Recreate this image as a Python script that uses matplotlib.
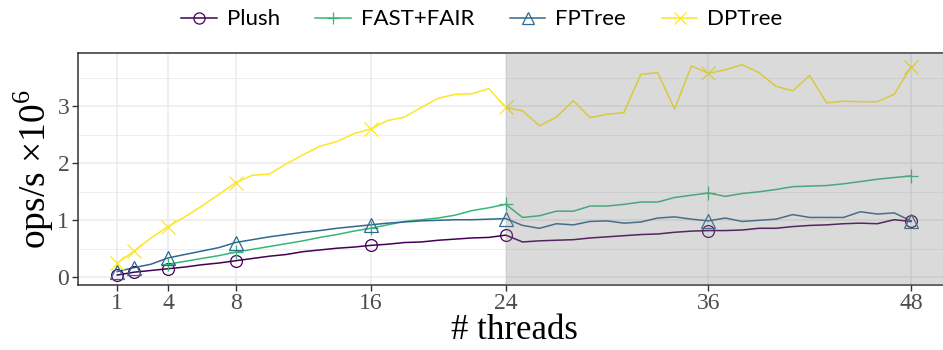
import numpy as np
import matplotlib
matplotlib.use("Agg")
from matplotlib import pyplot as plt
from matplotlib.lines import Line2D

threads = list(range(1, 49))
marked = [1, 2, 4, 8, 16, 24, 36, 48]

plush = [0.04, 0.09, 0.12, 0.15, 0.18, 0.22, 0.25, 0.29, 0.33, 0.37,
         0.40, 0.45, 0.48, 0.51, 0.53, 0.56, 0.58, 0.61, 0.62, 0.65,
         0.67, 0.69, 0.70, 0.74, 0.62, 0.64, 0.65, 0.66, 0.69, 0.71,
         0.73, 0.75, 0.76, 0.79, 0.81, 0.82, 0.82, 0.83, 0.86, 0.86,
         0.89, 0.91, 0.92, 0.94, 0.95, 0.94, 1.01, 0.98]

# FAST+FAIR has no runs below 4 threads
fastfair_threads = list(range(4, 49))
fastfair = [0.23, 0.28, 0.33, 0.38, 0.44, 0.49, 0.54, 0.59, 0.64, 0.70,
            0.75, 0.81, 0.86, 0.92, 0.98, 1.01, 1.04, 1.09, 1.17, 1.22,
            1.28, 1.05, 1.08, 1.16, 1.16, 1.25, 1.25, 1.28, 1.32, 1.32,
            1.40, 1.44, 1.48, 1.42, 1.47, 1.50, 1.54, 1.59, 1.60, 1.61,
            1.64, 1.68, 1.72, 1.75, 1.78]

fptree = [0.10, 0.17, 0.23, 0.34, 0.40, 0.46, 0.52, 0.61, 0.66, 0.71,
          0.75, 0.79, 0.82, 0.86, 0.89, 0.92, 0.95, 0.97, 0.99, 1.00,
          1.01, 1.01, 1.02, 1.03, 0.91, 0.86, 0.94, 0.92, 0.98, 0.99,
          0.95, 0.97, 1.04, 1.06, 1.02, 0.99, 1.04, 0.98, 1.00, 1.02,
          1.10, 1.05, 1.05, 1.05, 1.15, 1.11, 1.13, 0.99]

dptree = [0.25, 0.46, 0.69, 0.89, 1.06, 1.25, 1.45, 1.66, 1.79, 1.81,
          1.99, 2.15, 2.30, 2.38, 2.52, 2.60, 2.75, 2.81, 2.98, 3.14,
          3.21, 3.22, 3.31, 2.98, 2.92, 2.66, 2.81, 3.10, 2.80, 2.86,
          2.89, 3.56, 3.59, 2.95, 3.71, 3.58, 3.64, 3.73, 3.59, 3.35,
          3.27, 3.54, 3.06, 3.09, 3.08, 3.08, 3.21, 3.69]

series = [
    ("Plush", threads, plush, "#440154", "o"),
    ("FAST+FAIR", fastfair_threads, fastfair, "#35b779", "+"),
    ("FPTree", threads, fptree, "#31688e", "^"),
    ("DPTree", threads, dptree, "#fde725", "x"),
]

x_ticks = [1, 4, 8, 16, 24, 36, 48]
y_ticks = [0, 1, 2, 3]

plt.rcParams["font.family"] = ["Liberation Serif", "DejaVu Serif"]
plt.rcParams["mathtext.fontset"] = "custom"
plt.rcParams["mathtext.rm"] = "Liberation Serif"

W, H = 943, 350
fig = plt.figure(figsize=(W / 100, H / 100), dpi=100)
left, right, top, bottom = 77.6, 950.7, 53, 285
ax = fig.add_axes([left / W, 1 - bottom / H, (right - left) / W, (bottom - top) / H])

for name, xs, ys, color, marker in series:
    ax.plot(xs, ys, color=color, linewidth=1.1, zorder=3)
    mx = [x for x in xs if x in marked]
    my = [y for x, y in zip(xs, ys) if x in marked]
    ax.plot(mx, my, linestyle="none", marker=marker, markersize=10 if marker != "o" else 8.5,
            markerfacecolor="none", markeredgecolor=color, markeredgewidth=0.9, zorder=4)

ax.set_xlim(-1.35, 50.35)
ax.set_ylim(-0.135, 3.935)

# hyperthreading region
ax.axvspan(24, 60, color="#808080", alpha=0.29, linewidth=0, zorder=5)

ax.set_xticks(x_ticks)
ax.set_yticks(y_ticks)
ax.set_yticks([0.5, 1.5, 2.5, 3.5], minor=True)
ax.grid(True, which="major", color="#ebebeb", linewidth=1.1, zorder=0)
ax.grid(True, which="minor", axis="y", color="#ebebeb", linewidth=0.6, zorder=0)
ax.set_axisbelow(True)
ax.tick_params(axis="both", which="major", direction="out", length=4, width=1,
               color="#333333", labelcolor="#4d4d4d", labelsize=17, pad=2)
ax.tick_params(axis="y", which="minor", length=0)
for sp in ax.spines.values():
    sp.set_color("#333333")
    sp.set_linewidth(1.1)

ax.set_xlabel("# threads", fontsize=25, labelpad=0)
ax.set_ylabel(r"ops/s $\times$10$^6$", fontsize=27, labelpad=1)

handles = [Line2D([0], [0], color=c, linewidth=1.1, marker=m, markersize=8 if m == "o" else 9,
                  markerfacecolor="none", markeredgecolor=c, markeredgewidth=0.9)
           for _, _, _, c, m in series]
fig.legend(handles, [s[0] for s in series], loc="upper center", bbox_to_anchor=(0.511, 1.03),
           ncol=4, frameon=False, handlelength=1.6, handletextpad=0.45,
           columnspacing=1.6, prop={"family": ["Lato", "DejaVu Sans"], "size": 16})

fig.savefig("out.png", dpi=100)
